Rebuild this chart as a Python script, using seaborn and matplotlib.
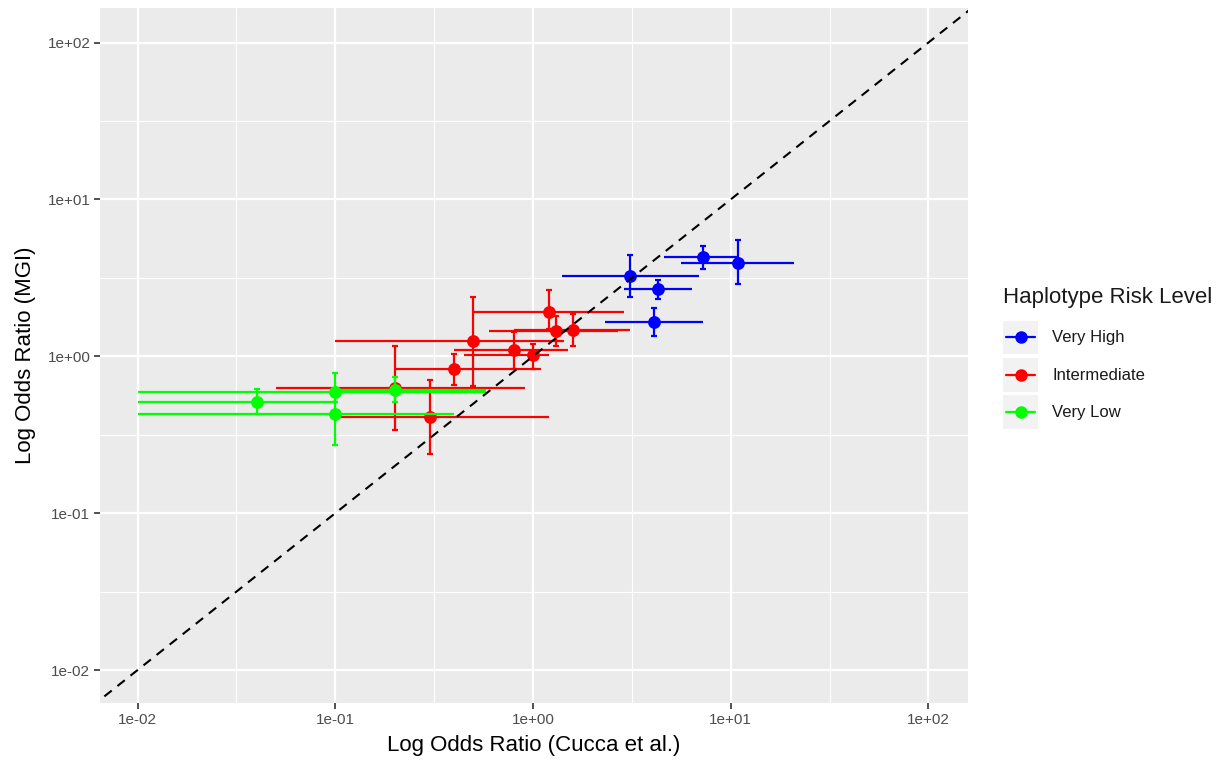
import numpy as np
import pandas as pd
import matplotlib
matplotlib.use("Agg")
import matplotlib.pyplot as plt
import seaborn as sns
from matplotlib.lines import Line2D
from matplotlib.patches import Rectangle
from matplotlib.legend_handler import HandlerBase
from matplotlib.ticker import FixedLocator, NullFormatter

# ---------------- data ----------------
levels = ["Very High", "Intermediate", "Very Low"]
colors = ["#0000FF", "#FF0000", "#00FF00"]

vh_x = [3.1, 4.3, 4.1, 7.2, 10.9]
vh_y = [3.25, 2.67, 1.65, 4.29, 3.95]
vh_xmin = [1.4, 2.9, 2.3, 4.6, 5.6]
vh_xmax = [6.9, 6.4, 7.2, 10.9, 20.8]
vh_ymin = [2.39, 2.31, 1.34, 3.62, 2.88]
vh_ymax = [4.4, 3.05, 2.04, 5.04, 5.48]

im_x = [0.5, 1.2, 1.3, 1.6, 0.8, 1.0, 0.4, 0.2, 0.3]
im_y = [1.25, 1.92, 1.44, 1.48, 1.09, 1.02, 0.83, 0.63, 0.41]
im_xmin = [0.1, 0.5, 0.6, 0.8, 0.4, 0.45, 0.2, 0.05, 0.1]
im_xmax = [1.43, 2.9, 2.7, 3.1, 1.5, 1.2, 1.1, 0.91, 1.21]
im_ymin = [0.65, 1.5, 1.16, 1.17, 0.835, 0.835, 0.66, 0.34, 0.24]
im_ymax = [2.4, 2.65, 1.8, 1.87, 1.43, 1.19, 1.04, 1.16, 0.71]

vl_x = [0.04, 0.1, 0.1, 0.2]
vl_y = [0.51, 0.59, 0.43, 0.61]
vl_xmin = [0.01, 0.01, 0.01, 0.1]
vl_xmax = [0.1, 0.58, 0.4, 0.58]
vl_ymin = [0.43, 0.51, 0.27, 0.51]
vl_ymax = [0.62, 0.78, 0.51, 0.74]

tick_vals = [0.01, 0.1, 1, 10, 100]
tick_labels = ["1e-02", "1e-01", "1e+00", "1e+01", "1e+02"]

frames = []
for lev, x, y, x0, x1, y0, y1 in [
    ("Very High", vh_x, vh_y, vh_xmin, vh_xmax, vh_ymin, vh_ymax),
    ("Intermediate", im_x, im_y, im_xmin, im_xmax, im_ymin, im_ymax),
    ("Very Low", vl_x, vl_y, vl_xmin, vl_xmax, vl_ymin, vl_ymax),
]:
    frames.append(pd.DataFrame({"level": lev, "cucca": x, "mgi": y,
                                "xmin": x0, "xmax": x1, "ymin": y0, "ymax": y1}))
df = pd.concat(frames, ignore_index=True)

# ---------------- style ----------------
sns.set_theme(style="darkgrid")
plt.rcParams["font.family"] = ["Liberation Sans", "DejaVu Sans"]
plt.rcParams["axes.facecolor"] = "#EBEBEB"
plt.rcParams["figure.facecolor"] = "white"

fig = plt.figure(figsize=(12.19, 7.6), dpi=100)
ax = fig.add_axes([100 / 1219, 1 - 703 / 760, (968 - 100) / 1219, (703 - 8) / 760])
ax.set_facecolor("#EBEBEB")
ax.set_xscale("log")
ax.set_yscale("log")
ax.set_xlim(10 ** -2.19, 10 ** 2.2)
ax.set_ylim(10 ** -2.21, 10 ** 2.22)

pal = dict(zip(levels, colors))
z = 3
for lev in levels:
    d = df[df["level"] == lev]
    c = pal[lev]
    ax.errorbar(d["cucca"], d["mgi"],
                yerr=[d["mgi"] - d["ymin"], d["ymax"] - d["mgi"]],
                fmt="none", ecolor=c, elinewidth=1.6, capsize=2.0, capthick=1.6, zorder=z)
    ax.errorbar(d["cucca"], d["mgi"],
                xerr=[d["cucca"] - d["xmin"], d["xmax"] - d["cucca"]],
                fmt="none", ecolor=c, elinewidth=1.6, capsize=0, zorder=z)
    sns.scatterplot(data=d, x="cucca", y="mgi", color=c, s=85, linewidth=0,
                    legend=False, ax=ax, zorder=z + 0.5)
    z += 1

# identity line
lo, hi = 10 ** -2.3, 10 ** 2.3
ax.plot([lo, hi], [lo, hi], color="black", lw=1.5, dashes=(4.5, 3.5), zorder=10)

# ticks and grid
for axis in (ax.xaxis, ax.yaxis):
    axis.set_major_locator(FixedLocator(tick_vals))
    axis.set_minor_locator(FixedLocator([10 ** (k + 0.5) for k in range(-3, 3)]))
    axis.set_minor_formatter(NullFormatter())
ax.set_xticklabels(tick_labels)
ax.set_yticklabels(tick_labels)
ax.grid(which="major", color="white", linewidth=1.6)
ax.grid(which="minor", color="white", linewidth=0.8)
ax.tick_params(which="major", length=4, width=1.2, color="#333333",
               labelsize=11, labelcolor="#4D4D4D", pad=3, bottom=True, left=True)
ax.tick_params(which="minor", length=0)
for s in ax.spines.values():
    s.set_visible(False)
ax.set_axisbelow(True)

ax.set_xlabel("Log Odds Ratio (Cucca et al.)", fontsize=16, color="black", labelpad=6)
ax.set_ylabel("Log Odds Ratio (MGI)", fontsize=16, color="black", labelpad=8)


# ---------------- legend ----------------
class KeyHandler(HandlerBase):
    def create_artists(self, legend, orig_handle, xdescent, ydescent, width, height, fontsize, trans):
        x0, y0 = -xdescent, -ydescent
        c = orig_handle.get_color()
        rect = Rectangle((x0, y0), width, height, facecolor="#F2F2F2", edgecolor="none", transform=trans)
        ym = y0 + height / 2
        ln = Line2D([x0 + 0.08 * width, x0 + 0.92 * width], [ym, ym], color=c, lw=1.6, transform=trans)
        mk = Line2D([x0 + width / 2], [ym], marker="o", markersize=9, color=c,
                    markeredgewidth=0, linestyle="none", transform=trans)
        return [rect, ln, mk]


handles = [Line2D([], [], color=c) for c in colors]
leg = fig.legend(handles, levels, title="Haplotype Risk Level",
                 handler_map={Line2D: KeyHandler()},
                 loc="upper left", bbox_to_anchor=(1003 / 1219, 1 - 287 / 760),
                 frameon=False, fontsize=12, title_fontsize=16,
                 handlelength=2.1, handleheight=2.75, handletextpad=0.85,
                 labelspacing=0.2, borderpad=0, borderaxespad=0, alignment="left")
leg._legend_box.sep = 9
for t in leg.get_texts():
    t.set_color("#1A1A1A")
leg.get_title().set_color("#1A1A1A")

fig.savefig("out.png", dpi=100)
